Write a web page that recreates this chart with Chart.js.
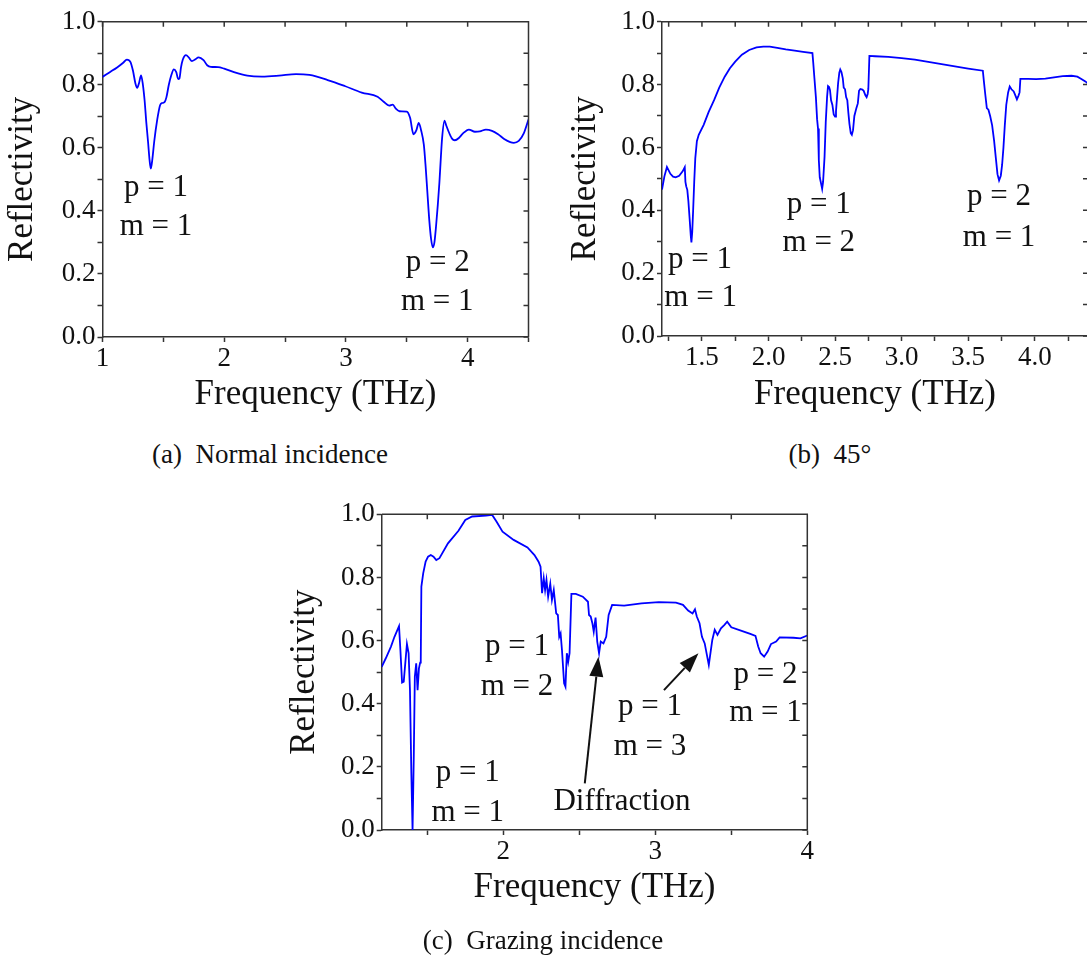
<!DOCTYPE html>
<html>
<head>
<meta charset="utf-8">
<script src="https://cdn.jsdelivr.net/npm/chart.js@4.4.1/dist/chart.umd.min.js"></script>
<style>
html, body { margin: 0; padding: 0; background: #fff; width: 1087px; height: 965px; overflow: hidden; }
canvas { position: absolute; }
.cap { position: absolute; font-family: 'Liberation Serif', serif; font-size: 27px; color: #111;
       white-space: pre; transform: translate(-50%, -50%); }
</style>
</head>
<body>
<canvas id="chartA" width="540" height="420" style="left:0;top:0"></canvas>
<canvas id="chartB" width="548" height="420" style="left:540px;top:0"></canvas>
<canvas id="chartC" width="540" height="440" style="left:280px;top:490px"></canvas>
<div class="cap" style="left:270px;top:454px">(a)  Normal incidence</div>
<div class="cap" style="left:830px;top:454px">(b)  45°</div>
<div class="cap" style="left:543px;top:940px">(c)  Grazing incidence</div>
<script>
// (a) normal incidence
const freqA = [1.00, 1.06, 1.12, 1.17, 1.20, 1.23, 1.25, 1.27, 1.285, 1.30, 1.317, 1.332, 1.346, 1.36, 1.374,
  1.387, 1.397, 1.41, 1.425, 1.45, 1.473, 1.49, 1.51, 1.525, 1.545, 1.565, 1.586, 1.606, 1.622, 1.632, 1.645,
  1.66, 1.686, 1.71, 1.735, 1.76, 1.79, 1.83, 1.86, 1.89, 1.95, 2.00, 2.08, 2.19, 2.31, 2.45, 2.59, 2.70,
  2.85, 2.99, 3.13, 3.26, 3.31, 3.355, 3.385, 3.41, 3.44, 3.50, 3.527, 3.555, 3.578, 3.598, 3.618, 3.64,
  3.655, 3.669, 3.685, 3.700, 3.714, 3.727, 3.739, 3.755, 3.768, 3.78, 3.79, 3.81, 3.825, 3.84, 3.87, 3.895,
  3.93, 3.96, 4.01, 4.06, 4.10, 4.15, 4.20, 4.25, 4.30, 4.35, 4.38, 4.42, 4.46, 4.50];
const reflA = [0.825, 0.840, 0.855, 0.870, 0.880, 0.872, 0.845, 0.805, 0.790, 0.805, 0.830, 0.800, 0.750, 0.680, 0.620,
  0.560, 0.534, 0.565, 0.620, 0.690, 0.735, 0.742, 0.745, 0.760, 0.800, 0.830, 0.849, 0.840, 0.818, 0.820, 0.855,
  0.880, 0.894, 0.886, 0.875, 0.880, 0.887, 0.878, 0.862, 0.857, 0.856, 0.851, 0.840, 0.829, 0.826, 0.829, 0.834, 0.831,
  0.815, 0.796, 0.775, 0.762, 0.746, 0.734, 0.737, 0.724, 0.716, 0.715, 0.695, 0.643, 0.655, 0.679, 0.655, 0.610,
  0.540, 0.460, 0.370, 0.310, 0.284, 0.300, 0.345, 0.420, 0.490, 0.570, 0.630, 0.686, 0.670, 0.655, 0.630, 0.624,
  0.632, 0.645, 0.658, 0.651, 0.652, 0.658, 0.654, 0.643, 0.628, 0.618, 0.616, 0.622, 0.645, 0.690];

// (b) 45 degrees
const freqB = [1.20, 1.218, 1.237, 1.25, 1.263, 1.283, 1.303, 1.329, 1.355, 1.371, 1.376, 1.382, 1.390, 1.398,
  1.408, 1.416, 1.421, 1.427, 1.434, 1.442, 1.450, 1.462, 1.476, 1.513, 1.55, 1.592, 1.63, 1.671, 1.71, 1.75,
  1.80, 1.855, 1.91, 1.961, 2.01, 2.066, 2.13, 2.197, 2.26, 2.33, 2.336, 2.345, 2.356, 2.365, 2.372, 2.378,
  2.385, 2.395, 2.403, 2.41, 2.421, 2.43, 2.44, 2.447, 2.455, 2.462, 2.47, 2.48, 2.49, 2.50, 2.507, 2.515,
  2.523, 2.532, 2.539, 2.548, 2.558, 2.565, 2.575, 2.583, 2.592, 2.60, 2.608, 2.618, 2.626, 2.635, 2.645,
  2.66, 2.671, 2.680, 2.69, 2.705, 2.715, 2.728, 2.737, 2.745, 2.750, 2.758, 2.80, 2.90, 3.00, 3.10, 3.20,
  3.30, 3.40, 3.50, 3.61, 3.618, 3.628, 3.64, 3.652, 3.665, 3.68, 3.695, 3.708, 3.72, 3.732, 3.745, 3.755,
  3.765, 3.775, 3.786, 3.80, 3.812, 3.825, 3.842, 3.855, 3.866, 3.878, 3.886, 3.892, 3.95, 4.01, 4.08, 4.145,
  4.21, 4.276, 4.32, 4.35, 4.38, 4.40];
const reflB = [0.466, 0.508, 0.538, 0.527, 0.516, 0.507, 0.505, 0.510, 0.524, 0.537, 0.490, 0.476, 0.465, 0.430,
  0.370, 0.320, 0.298, 0.330, 0.400, 0.490, 0.565, 0.620, 0.640, 0.672, 0.712, 0.751, 0.790, 0.825, 0.852, 0.873,
  0.895, 0.910, 0.918, 0.921, 0.921, 0.917, 0.912, 0.908, 0.904, 0.900, 0.870, 0.820, 0.760, 0.690, 0.660, 0.560,
  0.505, 0.485, 0.468, 0.490, 0.570, 0.680, 0.760, 0.795, 0.792, 0.782, 0.750, 0.735, 0.705, 0.698, 0.715, 0.760,
  0.805, 0.838, 0.848, 0.840, 0.820, 0.790, 0.785, 0.760, 0.750, 0.710, 0.675, 0.645, 0.640, 0.655, 0.700,
  0.725, 0.740, 0.780, 0.786, 0.784, 0.780, 0.766, 0.760, 0.770, 0.786, 0.891, 0.890, 0.888, 0.884, 0.879, 0.872,
  0.865, 0.858, 0.851, 0.844, 0.810, 0.770, 0.725, 0.720, 0.700, 0.670, 0.620, 0.565, 0.515, 0.495, 0.510, 0.545,
  0.600, 0.670, 0.735, 0.775, 0.794, 0.785, 0.778, 0.765, 0.753, 0.765, 0.775, 0.818, 0.818, 0.817, 0.819, 0.823,
  0.827, 0.828, 0.825, 0.818, 0.810, 0.803];

// (c) grazing incidence
const freqC = [1.20, 1.227, 1.261, 1.284, 1.314, 1.323, 1.334, 1.345, 1.357, 1.366, 1.377, 1.386, 1.395, 1.403,
  1.411, 1.418, 1.427, 1.436, 1.445, 1.453, 1.457, 1.461, 1.473, 1.489, 1.505, 1.523, 1.541, 1.559, 1.58, 1.636,
  1.705, 1.75, 1.795, 1.886, 1.927, 1.955, 1.995, 2.068, 2.159, 2.205, 2.232, 2.245, 2.255, 2.266, 2.275, 2.284,
  2.295, 2.309, 2.32, 2.332, 2.348, 2.359, 2.368, 2.377, 2.386, 2.40, 2.409, 2.418, 2.427, 2.436, 2.448, 2.477,
  2.523, 2.557, 2.564, 2.575, 2.586, 2.595, 2.607, 2.618, 2.63, 2.641, 2.659, 2.677, 2.693, 2.716, 2.795, 2.909,
  3.023, 3.136, 3.182, 3.216, 3.245, 3.261, 3.273, 3.291, 3.307, 3.325, 3.352, 3.375, 3.391, 3.409, 3.432, 3.455,
  3.473, 3.50, 3.568, 3.625, 3.659, 3.677, 3.693, 3.716, 3.739, 3.761, 3.795, 3.818, 3.909, 3.955, 4.00];
const reflC = [0.517, 0.544, 0.581, 0.612, 0.646, 0.570, 0.467, 0.470, 0.539, 0.589, 0.560, 0.443, 0.180, 0.0,
  0.232, 0.486, 0.528, 0.443, 0.512, 0.530, 0.539, 0.771, 0.813, 0.850, 0.866, 0.871, 0.866, 0.855, 0.861, 0.908,
  0.948, 0.982, 0.993, 0.996, 0.998, 0.977, 0.945, 0.919, 0.895, 0.871, 0.850, 0.834, 0.750, 0.797, 0.760, 0.792,
  0.739, 0.780, 0.729, 0.760, 0.686, 0.681, 0.612, 0.623, 0.570, 0.465, 0.454, 0.560, 0.533, 0.560, 0.748, 0.748,
  0.739, 0.723, 0.681, 0.676, 0.655, 0.628, 0.673, 0.597, 0.560, 0.597, 0.591, 0.612, 0.681, 0.713, 0.711, 0.718,
  0.722, 0.720, 0.713, 0.695, 0.686, 0.699, 0.676, 0.655, 0.612, 0.591, 0.523, 0.602, 0.634, 0.618, 0.639, 0.650,
  0.660, 0.642, 0.631, 0.621, 0.615, 0.581, 0.560, 0.549, 0.565, 0.589, 0.597, 0.610, 0.609, 0.607, 0.616];

// ticks (major ones get a label, the rest are minor marks)
const yTicks = [0, 0.1, 0.2, 0.3, 0.4, 0.5, 0.6, 0.7, 0.8, 0.9, 1.0];
const yLabels = ['0.0', '', '0.2', '', '0.4', '', '0.6', '', '0.8', '', '1.0'];
const xTicksA = [1, 1.5, 2, 2.5, 3, 3.5, 4, 4.5];
const xLabelsA = ['1', '', '2', '', '3', '', '4', ''];
const xTicksB = [1.25, 1.5, 1.75, 2, 2.25, 2.5, 2.75, 3, 3.25, 3.5, 3.75, 4, 4.25];
const xLabelsB = ['', '1.5', '', '2.0', '', '2.5', '', '3.0', '', '3.5', '', '4.0', ''];
const xTicksC = [1.5, 2, 2.5, 3, 3.5, 4];
const xLabelsC = ['', '2', '', '3', '', '4'];

// annotations: [text, frequency, reflectivity]
const notesA = [['p = 1', 1.44, 0.473], ['m = 1', 1.44, 0.35], ['p = 2', 3.755, 0.235], ['m = 1', 3.75, 0.112]];
const notesB = [['p = 1', 1.485, 0.242], ['m = 1', 1.49, 0.121], ['p = 1', 2.378, 0.417], ['m = 2', 2.378, 0.296],
  ['p = 2', 3.732, 0.443], ['m = 1', 3.732, 0.312]];
const notesC = [['p = 1', 1.766, 0.181], ['m = 1', 1.766, 0.054], ['p = 1', 2.09, 0.580], ['m = 2', 2.09, 0.453],
  ['Diffraction', 2.781, 0.089], ['p = 1', 2.965, 0.390], ['m = 3', 2.965, 0.263], ['p = 2', 3.725, 0.491],
  ['m = 1', 3.725, 0.371]];
// arrows: [tail f, tail r, tip f, tip r]
const arrowsC = [[2.536, 0.148, 2.626, 0.549], [3.057, 0.443, 3.284, 0.560]];

const SERIF = "'Liberation Serif', 'DejaVu Serif', serif";
const INK = '#111';
const AXIS = '#333';

// closed frame with inward ticks on top and right
const framePlugin = {
  id: 'frame',
  afterDraw(chart) {
    const {ctx, chartArea: a, scales: {x, y}} = chart;
    ctx.save();
    ctx.strokeStyle = AXIS;
    ctx.lineWidth = 1.5;
    ctx.beginPath();
    ctx.moveTo(a.left, a.top);
    ctx.lineTo(a.right, a.top);
    ctx.lineTo(a.right, a.bottom);
    x.ticks.forEach(t => {
      const px = x.getPixelForValue(t.value);
      ctx.moveTo(px, a.top);
      ctx.lineTo(px, a.top + 5);
    });
    y.ticks.forEach(t => {
      const py = y.getPixelForValue(t.value);
      ctx.moveTo(a.right, py);
      ctx.lineTo(a.right - 5, py);
    });
    ctx.stroke();
    ctx.restore();
  }
};

const notePlugin = {
  id: 'notes',
  afterDatasetsDraw(chart, args, opts) {
    const {ctx, scales: {x, y}} = chart;
    ctx.save();
    ctx.fillStyle = INK;
    ctx.strokeStyle = INK;
    ctx.font = '31px ' + SERIF;
    ctx.textAlign = 'center';
    ctx.textBaseline = 'middle';
    (opts.notes || []).forEach(n => {
      ctx.fillText(n[0], x.getPixelForValue(n[1]), y.getPixelForValue(n[2]));
    });
    (opts.arrows || []).forEach(ar => {
      const x0 = x.getPixelForValue(ar[0]), y0 = y.getPixelForValue(ar[1]);
      const x1 = x.getPixelForValue(ar[2]), y1 = y.getPixelForValue(ar[3]);
      const ang = Math.atan2(y1 - y0, x1 - x0);
      const len = 20, half = 7;
      const bx = x1 - len * Math.cos(ang), by = y1 - len * Math.sin(ang);
      ctx.lineWidth = 2;
      ctx.beginPath();
      ctx.moveTo(x0, y0);
      ctx.lineTo(bx, by);
      ctx.stroke();
      ctx.beginPath();
      ctx.moveTo(x1, y1);
      ctx.lineTo(bx + half * Math.sin(ang), by - half * Math.cos(ang));
      ctx.lineTo(bx - half * Math.sin(ang), by + half * Math.cos(ang));
      ctx.closePath();
      ctx.fill();
    });
    ctx.restore();
  }
};

function labelFor(vals, labels) {
  return function (value) {
    const i = vals.findIndex(v => Math.abs(v - value) < 1e-6);
    return i < 0 ? '' : labels[i];
  };
}

function makeChart(id, freq, refl, p) {
  const points = freq.map((f, i) => ({x: f, y: refl[i]}));
  return new Chart(document.getElementById(id), {
    type: 'line',
    data: {
      datasets: [{
        data: points,
        borderColor: '#0000ff',
        borderWidth: 1.8,
        pointRadius: 0,
        tension: p.tension,
        cubicInterpolationMode: p.mono ? 'monotone' : 'default',
        fill: false
      }]
    },
    options: {
      responsive: false,
      animation: false,
      layout: {autoPadding: false, padding: {top: p.top, left: 0, right: p.right, bottom: 0}},
      plugins: {
        legend: {display: false},
        tooltip: {enabled: false},
        notes: {notes: p.notes, arrows: p.arrows}
      },
      scales: {
        x: {
          type: 'linear',
          min: p.xmin,
          max: p.xmax,
          afterBuildTicks: s => { s.ticks = p.xTicks.map(v => ({value: v})); },
          afterFit: s => { s.height = p.xAxisH; },
          grid: {drawOnChartArea: false, drawTicks: true, tickLength: 5, tickWidth: 1.5, tickColor: AXIS},
          border: {display: true, color: AXIS, width: 1.5},
          ticks: {autoSkip: false, maxRotation: 0, padding: 1, color: INK,
                  font: {family: SERIF, size: 27}, callback: labelFor(p.xTicks, p.xLabels)},
          title: {display: true, text: 'Frequency (THz)', color: INK,
                  font: {family: SERIF, size: 35}, padding: {top: 0, bottom: p.xTitlePad}}
        },
        y: {
          type: 'linear',
          min: 0,
          max: 1,
          afterBuildTicks: s => { s.ticks = yTicks.map(v => ({value: v})); },
          afterFit: s => { s.width = p.left; },
          grid: {drawOnChartArea: false, drawTicks: true, tickLength: 5, tickWidth: 1.5, tickColor: AXIS},
          border: {display: true, color: AXIS, width: 1.5},
          ticks: {autoSkip: false, padding: 2, color: INK,
                  font: {family: SERIF, size: 27}, callback: labelFor(yTicks, yLabels)},
          title: {display: true, text: 'Reflectivity', color: INK,
                  font: {family: SERIF, size: 35}, padding: {top: p.yTitlePad, bottom: 0}}
        }
      }
    },
    plugins: [framePlugin, notePlugin]
  });
}

makeChart('chartA', freqA, reflA, {
  xmin: 1, xmax: 4.5, xTicks: xTicksA, xLabels: xLabelsA, tension: 0.4, mono: true,
  top: 21.7, right: 11.5, left: 102.5, xAxisH: 83, xTitlePad: 4.5, yTitlePad: 2.2,
  notes: notesA, arrows: []
});
makeChart('chartB', freqB, reflB, {
  xmin: 1.2, xmax: 4.4, xTicks: xTicksB, xLabels: xLabelsB, tension: 0, mono: false,
  top: 21.7, right: 0, left: 122, xAxisH: 84, xTitlePad: 4.5, yTitlePad: 24.5,
  notes: notesB, arrows: []
});
makeChart('chartC', freqC, reflC, {
  xmin: 1.2, xmax: 4, xTicks: xTicksC, xLabels: xLabelsC, tension: 0, mono: false,
  top: 24.3, right: 12.7, left: 101.7, xAxisH: 100, xTitlePad: 21.5, yTitlePad: 4,
  notes: notesC, arrows: arrowsC
});
</script>
</body>
</html>
